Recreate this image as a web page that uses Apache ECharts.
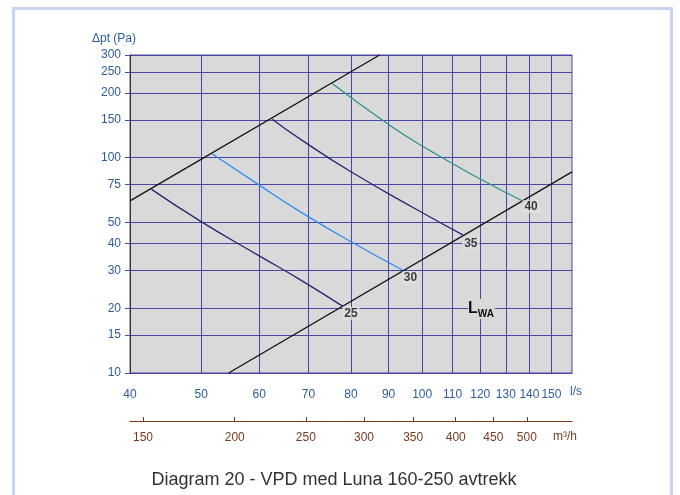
<!DOCTYPE html>
<html>
<head>
<meta charset="utf-8">
<script src="https://cdn.jsdelivr.net/npm/echarts@6/dist/echarts.min.js"></script>
<style>
html,body{margin:0;padding:0;background:#fff;}
#c{width:680px;height:495px;}
</style>
</head>
<body>
<div id="c"></div>
<script>
// ---- data ----
const xTicksLs = [40, 50, 60, 70, 80, 90, 100, 110, 120, 130, 140, 150];
const xTicksM3h = [150, 200, 250, 300, 350, 400, 450, 500];
const yTicks = [10, 15, 20, 30, 40, 50, 75, 100, 150, 200, 250, 300];

// system lines (black)
const upperLine = [[40, 63], [87.5, 300]];
const lowerLine = [[54.5, 10], [160, 86]];

// sound power curves L_WA
const lwa25 = [[42.8, 71.3], [50, 50.5], [60, 35], [68, 27.3], [78, 20.4]];
const lwa30 = [[51.8, 104], [60, 74.6], [68, 56.5], [80, 40.7], [94, 30.1]];
const lwa35 = [[62.5, 151], [68, 123], [80, 86], [98, 57.8], [113.6, 43.8]];
const lwa40 = [[75.4, 221], [90, 142.6], [100, 113.3], [120, 79.6], [136.8, 63.1]];
const curveNames = ['25', '30', '35', '40'];

const gridColor = '#4848a4';
const blueText = '#2d5c9e';
const brown = '#7a3b1f';

const curves = [lwa25, lwa30, lwa35, lwa40];
const curveColors = ['#26266e', '#2f8cf0', '#26266e', '#2a9090'];
const labelOffsets = [[8, 7], [8, 8], [8, 9], [9, 6]];

const series = [
  {type: 'line', data: upperLine, symbol: 'none', lineStyle: {color: '#111', width: 1.3}, silent: true},
  {type: 'line', data: lowerLine, symbol: 'none', lineStyle: {color: '#111', width: 1.3}, silent: true}
];
curves.forEach((c, i) => {
  series.push({type: 'line', data: c, symbol: 'none', smooth: 0.5,
    lineStyle: {color: curveColors[i], width: 1.3}, silent: true});
});
series.push({
  type: 'scatter', symbolSize: 1, itemStyle: {color: 'rgba(0,0,0,0)'}, silent: true, z: 5,
  data: curves.map((c, i) => ({
    value: c[c.length - 1],
    label: {show: true, formatter: curveNames[i], position: 'inside', offset: labelOffsets[i],
      color: '#111', fontWeight: 'bold', fontSize: 12, fontFamily: 'Liberation Sans, Arial',
      backgroundColor: '#dedede', padding: [1, 2, 0, 2]}
  }))
});

const chart = echarts.init(document.getElementById('c'), null, {renderer: 'canvas'});
chart.setOption({
  animation: false,
  backgroundColor: '#fff',
  grid: {left: 130, right: 108, top: 55, bottom: 122, show: true,
    backgroundColor: '#d9d9d9', borderColor: gridColor, borderWidth: 1},
  xAxis: [
    {type: 'log', logBase: 10, min: 40, max: 160, gridIndex: 0, position: 'bottom',
      axisLine: {show: true, lineStyle: {color: gridColor}},
      axisTick: {show: false, customValues: xTicksLs},
      axisLabel: {customValues: xTicksLs, color: blueText, fontSize: 12, margin: 16,
        fontFamily: 'Liberation Sans, Arial'},
      splitLine: {show: true, lineStyle: {color: gridColor, width: 1}},
      minorSplitLine: {show: false}},
    {type: 'log', logBase: 10, min: 144, max: 576, gridIndex: 0, position: 'bottom', offset: 48,
      axisLine: {show: true, onZero: false, lineStyle: {color: brown, width: 1}},
      axisTick: {show: true, inside: true, length: 4, customValues: xTicksM3h, lineStyle: {color: brown}},
      axisLabel: {customValues: xTicksM3h, color: brown, fontSize: 12, margin: 11,
        fontFamily: 'Liberation Sans, Arial'},
      splitLine: {show: false}}
  ],
  yAxis: {type: 'log', logBase: 10, min: 10, max: 300,
    axisLine: {show: true, lineStyle: {color: '#333'}},
    axisTick: {show: true, length: 5, customValues: yTicks, lineStyle: {color: gridColor}},
    axisLabel: {customValues: yTicks, color: blueText, fontSize: 12, margin: 9,
      fontFamily: 'Liberation Sans, Arial'},
    splitLine: {show: true, lineStyle: {color: gridColor, width: 1}}},
  series: series,
  graphic: [
    {type: 'rect', shape: {x: 13.5, y: 8.5, width: 658, height: 600},
      style: {fill: null, stroke: '#c9d5ee', lineWidth: 3}, silent: true},
    {type: 'text', x: 92, y: 33, style: {text: 'Δpt (Pa)', fill: blueText, fontSize: 12,
      fontFamily: 'Liberation Sans, Arial'}},
    {type: 'text', x: 570, y: 386, style: {text: 'l/s', fill: blueText, fontSize: 12,
      fontFamily: 'Liberation Sans, Arial'}},
    {type: 'text', x: 553, y: 431, style: {text: 'm³/h', fill: brown, fontSize: 12,
      fontFamily: 'Liberation Sans, Arial'}},
    {type: 'text', x: 468, y: 299, z: 10, style: {
      text: '{a|L}{b|WA}', rich: {
        a: {fontSize: 16, fontFamily: 'Liberation Sans, Arial', fill: '#111', fontWeight: 'bold', backgroundColor: '#d9d9d9'},
        b: {fontSize: 10, fontFamily: 'Liberation Sans, Arial', fill: '#111', fontWeight: 'bold', padding: [10, 1, 0, 0], backgroundColor: '#d9d9d9'}
      }}},
    {type: 'text', x: 334, y: 480, style: {text: 'Diagram 20 - VPD med Luna 160-250 avtrekk',
      fill: '#333', fontSize: 18, fontFamily: 'Liberation Sans, Arial', align: 'center', verticalAlign: 'middle'}}
  ]
});
</script>
</body>
</html>
